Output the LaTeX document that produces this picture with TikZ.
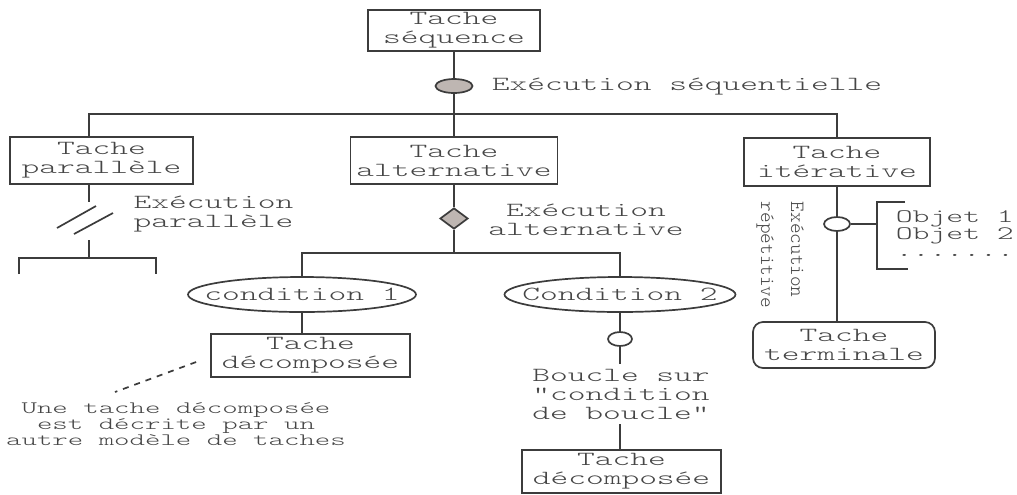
\documentclass[tikz,border=0pt]{standalone}
\usepackage{fontspec}
\usepackage{tikz}
\usetikzlibrary{positioning}
\usetikzlibrary{shapes,shapes.geometric,calc}

\newfontfamily\taskfont[FakeStretch=1.69]{lmmonolt10-regular.otf}
\newfontfamily\rotfont{lmmonolt10-regular.otf}
\definecolor{opgray}{RGB}{190,182,178}
\definecolor{ink}{RGB}{60,60,60}
\definecolor{txt}{RGB}{70,70,70}

\begin{document}
\begin{tikzpicture}[x=0.5pt,y=-0.5pt,line width=0.85pt,draw=ink,
    every node/.style={text=txt,font=\taskfont\fontsize{10}{9.5}\selectfont},
    task/.style={draw,rectangle,align=center,inner sep=0pt},
    term/.style={task,rounded corners=5pt},
    cond/.style={draw,ellipse,inner sep=0pt,minimum width=#1,minimum height=17.5pt},
    seqop/.style={draw,ellipse,fill=opgray,inner sep=0pt,minimum width=18.5pt,minimum height=7pt},
    altop/.style={draw,diamond,fill=opgray,inner sep=0pt,minimum width=14pt,minimum height=10.5pt},
    loopop/.style={draw,ellipse,fill=white,inner sep=0pt,minimum width=#1,minimum height=7pt},
    lbl/.style={align=center,inner sep=0pt}]
    \useasboundingbox (0,0) rectangle (1017,494);

    \node[task,minimum width=86pt,minimum height=20.5pt] (t_seq) at (454,30.5) {Tache\\séquence};
    \node[seqop] (op_seq) at (454,86) {};
    \node[lbl,anchor=west] (l_seq) at (491,87) {Exécution séquentielle};

    \node[task,minimum width=91.5pt,minimum height=23.5pt] (t_par) at (101.5,160.5) {Tache\\parallèle};
    \node[task,minimum width=103.5pt,minimum height=23.5pt] (t_alt) at (454,160.5) {Tache\\alternative};
    \node[task,minimum width=93pt,minimum height=24pt] (t_ite) at (837,162) {Tache\\itérative};

    \coordinate (seqbar) at (454,114);
    \coordinate (pardrop) at (89,114);

    \path[draw]
        (t_seq) edge (op_seq)
        (op_seq) edge (t_alt)
    ;
    \draw (t_par.north -| pardrop) |- (seqbar) -| (t_ite);

    % parallele
    \coordinate (parcut1) at (89,202);
    \coordinate (parcut2) at (89,240);
    \coordinate (parbar) at (89,258);
    \coordinate (parbarL) at (19,274);
    \coordinate (parbarR) at (156,274);
    \draw (t_par.south -| pardrop) -- (parcut1);
    \draw (57,228) -- (96,206);
    \draw (74,234) -- (113,213);
    \draw (parcut2) -- (parbar);
    \draw (parbarL) |- (parbar) -| (parbarR);
    \node[lbl] (l_par) at (213.5,214) {Exécution\\parallèle};

    % alternative
    \node[altop] (op_alt) at (454,218.5) {};
    \node[lbl] (l_alt) at (586,220) {Exécution\\alternative};
    \coordinate (altbar) at (454,253);
    \node[cond=114pt] (c_1) at (302,294.5) {\makebox[0pt]{condition 1}};
    \node[cond=115.5pt] (c_2) at (620,294.5) {\makebox[0pt]{Condition 2}};
    \path[draw]
        (t_alt) edge (op_alt)
        (op_alt) edge (altbar)
    ;
    \draw (c_1) |- (altbar) -| (c_2);

    \node[task,minimum width=99.5pt,minimum height=21.5pt] (t_dec1) at (310.5,355.5) {Tache\\décomposée};
    \draw (c_1) -- (c_1 |- t_dec1.north);
    \node[lbl,font=\taskfont\fontsize{8.7}{8}\selectfont] (l_note) at (176,424)
        {Une tache décomposée\\est décrite par un\\autre modèle de taches};
    \coordinate (notetip) at (115,392);
    \draw[dashed] ([shift={(-7pt,-3.25pt)}]t_dec1.west) -- (notetip);

    \node[loopop=12pt] (op_loop) at (620,339) {};
    \node[align=center,inner sep=2pt] (l_loop) at (621,394) {Boucle sur\\"condition\\de boucle"};
    \node[task,minimum width=99.5pt,minimum height=21.5pt] (t_dec2) at (621.5,471.5) {Tache\\décomposée};
    \draw (c_2) -- (op_loop) -- (op_loop |- l_loop.north);
    \draw (op_loop |- l_loop.south) -- (op_loop |- t_dec2.north);

    % iterative
    \node[loopop=13pt] (op_ite) at (837,224) {};
    \node[lbl,rotate=-90,align=left,font=\rotfont\fontsize{10.1}{15}\selectfont] (l_ite) at (780,255)
        {Exécution\\répétitive};
    \node[term,minimum width=91pt,minimum height=23pt] (t_term) at (844,345) {Tache\\terminale};
    \draw (t_ite) -- (op_ite) -- (op_ite |- t_term.north);

    \coordinate (objx) at (877,224);
    \coordinate (objtop) at (905,202);
    \coordinate (objbot) at (908,269);
    \draw (op_ite) -- (objx);
    \draw (objtop) -| (objx) |- (objbot);
    \node[lbl,align=left,anchor=west,font=\taskfont\fontsize{9.5}{8.5}\selectfont] (l_obj) at (895,234)
        {Objet 1\\Objet 2\\.......};
\end{tikzpicture}
\end{document}
